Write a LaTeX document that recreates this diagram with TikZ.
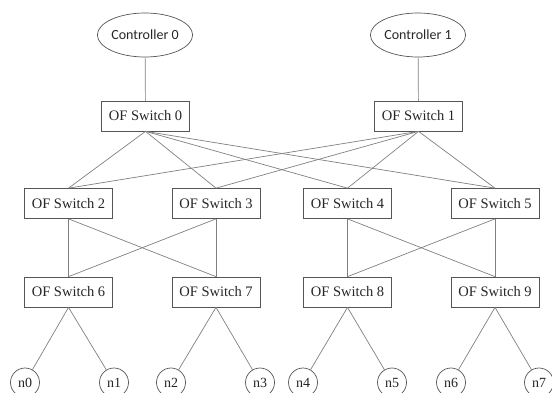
\documentclass[tikz,border=0pt]{standalone}
\usepackage{fontspec}
\setmainfont{Liberation Serif}
\newfontfamily\ctrlfont{Carlito}
\usetikzlibrary{shapes.geometric}
\definecolor{linec}{HTML}{808080}
\definecolor{boxc}{HTML}{555555}
\begin{document}
\begin{tikzpicture}[x=1pt,y=-1pt,
  ctrl/.style={ellipse,draw=boxc,line width=0.7pt,minimum width=94pt,minimum height=44pt,inner sep=0pt,font=\ctrlfont\fontsize{14}{16}\selectfont,text=black!85},
  sw/.style={rectangle,draw=boxc,line width=0.7pt,minimum width=88pt,minimum height=30pt,inner sep=0pt,font=\fontsize{14.5}{16}\selectfont,text=black!85},
  host/.style={circle,draw=boxc,line width=0.7pt,minimum size=29pt,inner sep=0pt,font=\fontsize{14}{15}\selectfont,text=black!85},
  link/.style={draw=linec,line width=0.7pt}]
\useasboundingbox (0,0) rectangle (552,392);
\node[ctrl] (c0) at (145,35) {Controller 0};
\node[ctrl] (c1) at (418,35) {Controller 1};
\node[sw] (s0) at (145.5,116) {OF Switch 0};
\node[sw] (s1) at (418.5,116) {OF Switch 1};
\node[sw] (s2) at (68.5,203.5) {OF Switch 2};
\node[sw] (s3) at (216,203.5) {OF Switch 3};
\node[sw] (s4) at (347.5,203.5) {OF Switch 4};
\node[sw] (s5) at (495,203.5) {OF Switch 5};
\node[sw] (s6) at (68.5,292) {OF Switch 6};
\node[sw] (s7) at (216,292) {OF Switch 7};
\node[sw] (s8) at (347.5,292) {OF Switch 8};
\node[sw] (s9) at (495,292) {OF Switch 9};
\node[host] (n0) at (25,382.5) {n0};
\node[host] (n1) at (114,382.5) {n1};
\node[host] (n2) at (171,382.5) {n2};
\node[host] (n3) at (260,382.5) {n3};
\node[host] (n4) at (303,382.5) {n4};
\node[host] (n5) at (392,382.5) {n5};
\node[host] (n6) at (451,382.5) {n6};
\node[host] (n7) at (539,382.5) {n7};
\draw[link] (c0) -- (s0);
\draw[link] (c1) -- (s1);
\foreach \a in {s0,s1}{
  \foreach \b in {s2,s3,s4,s5}{
    \draw[link] (\a.south) -- (\b.north);
  }
}
\draw[link] (s2.south) -- (s6.north);
\draw[link] (s2.south) -- (s7.north);
\draw[link] (s3.south) -- (s6.north);
\draw[link] (s3.south) -- (s7.north);
\draw[link] (s4.south) -- (s8.north);
\draw[link] (s4.south) -- (s9.north);
\draw[link] (s5.south) -- (s8.north);
\draw[link] (s5.south) -- (s9.north);
\draw[link] (s6.south) -- (n0);
\draw[link] (s6.south) -- (n1);
\draw[link] (s7.south) -- (n2);
\draw[link] (s7.south) -- (n3);
\draw[link] (s8.south) -- (n4);
\draw[link] (s8.south) -- (n5);
\draw[link] (s9.south) -- (n6);
\draw[link] (s9.south) -- (n7);
\end{tikzpicture}
\end{document}
